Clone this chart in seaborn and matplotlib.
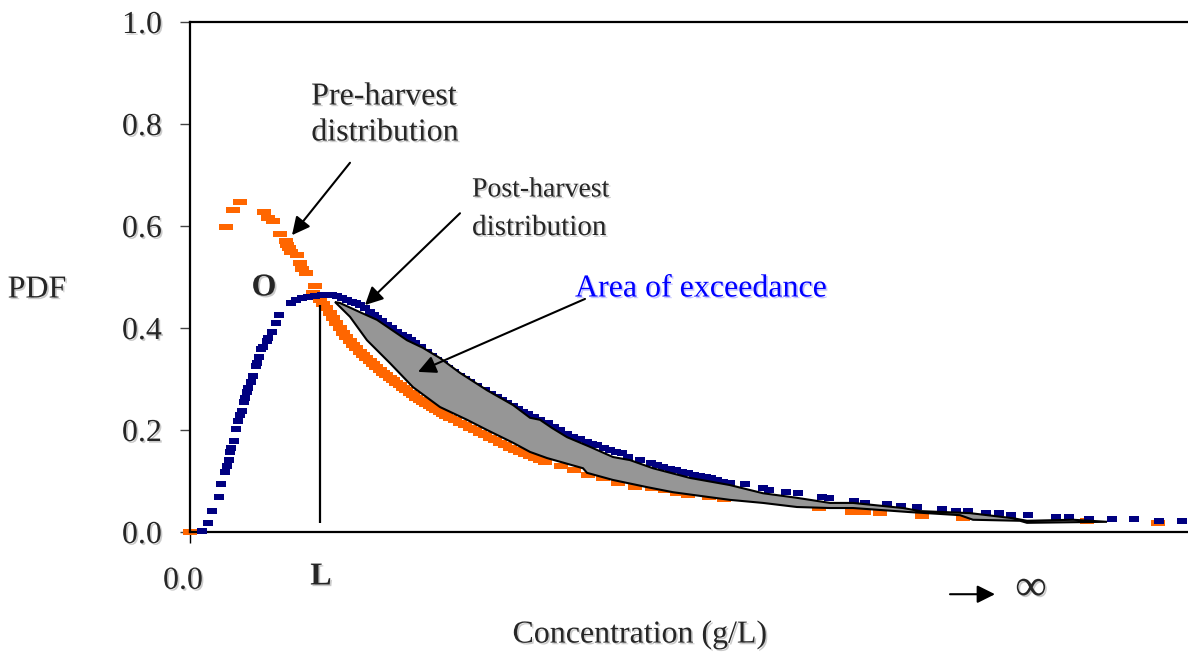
import matplotlib
matplotlib.use("Agg")
import matplotlib.pyplot as plt
import matplotlib.patheffects as pe
import matplotlib.transforms as mtransforms
from matplotlib.path import Path
import numpy as np
import seaborn as sns

# Pre-harvest concentration distribution (orange dashes)
pre_x = [0.00, 0.36, 0.43, 0.50, 0.74, 0.78, 0.83, 0.90, 0.96, 0.97, 0.99, 1.01,
         1.07, 1.10, 1.12, 1.16, 1.23, 1.25, 1.26, 1.30, 1.33, 1.36, 1.40, 1.43,
         1.46, 1.50, 1.53, 1.56, 1.60, 1.63, 1.66, 1.70, 1.73, 1.76, 1.80, 1.83,
         1.86, 1.90, 1.93, 1.96, 2.00, 2.03, 2.06, 2.10, 2.13, 2.16, 2.20, 2.23,
         2.26, 2.30, 2.33, 2.36, 2.40, 2.43, 2.46, 2.50, 2.53, 2.56, 2.60, 2.65,
         2.70, 2.75, 2.80, 2.85, 2.90, 2.95, 3.00, 3.05, 3.10, 3.15, 3.20, 3.25,
         3.30, 3.35, 3.40, 3.45, 3.50, 3.55, 3.71, 3.84, 3.98, 4.13, 4.28, 4.45,
         4.62, 4.75, 4.87, 4.98, 5.19, 5.34, 6.29, 6.62, 6.74, 6.90, 7.32, 7.73,
         8.97, 9.68]
pre_y = [0.000, 0.598, 0.631, 0.647, 0.627, 0.616, 0.610, 0.584, 0.571, 0.563, 0.557, 0.549,
         0.543, 0.527, 0.516, 0.508, 0.469, 0.482, 0.463, 0.455, 0.447, 0.439, 0.429, 0.420,
         0.410, 0.400, 0.390, 0.382, 0.375, 0.367, 0.361, 0.353, 0.347, 0.341, 0.335, 0.329,
         0.324, 0.318, 0.312, 0.308, 0.302, 0.298, 0.292, 0.288, 0.282, 0.278, 0.273, 0.269,
         0.263, 0.259, 0.255, 0.251, 0.247, 0.243, 0.239, 0.235, 0.231, 0.227, 0.224, 0.220,
         0.214, 0.210, 0.204, 0.200, 0.194, 0.190, 0.184, 0.180, 0.175, 0.171, 0.165, 0.161,
         0.157, 0.153, 0.149, 0.145, 0.141, 0.137, 0.129, 0.122, 0.112, 0.106, 0.096, 0.088,
         0.086, 0.082, 0.076, 0.073, 0.069, 0.065, 0.047, 0.039, 0.039, 0.037, 0.031, 0.027,
         0.022, 0.018]

# Post-harvest concentration distribution (navy dashes)
post_x = [0.12, 0.18, 0.22, 0.29, 0.31, 0.35, 0.37, 0.39, 0.40, 0.41, 0.44, 0.46,
          0.48, 0.50, 0.52, 0.54, 0.55, 0.57, 0.58, 0.61, 0.63, 0.66, 0.67, 0.69,
          0.71, 0.73, 0.77, 0.78, 0.82, 0.86, 0.89, 1.01, 1.06, 1.12, 1.18, 1.25,
          1.32, 1.37, 1.42, 1.47, 1.52, 1.57, 1.62, 1.66, 1.70, 1.75, 1.80, 1.84,
          1.87, 1.92, 1.97, 2.02, 2.07, 2.12, 2.17, 2.21, 2.25, 2.31, 2.37, 2.42,
          2.47, 2.53, 2.58, 2.64, 2.70, 2.75, 2.80, 2.87, 2.95, 3.01, 3.07, 3.12,
          3.17, 3.23, 3.28, 3.33, 3.38, 3.44, 3.50, 3.58, 3.64, 3.70, 3.77, 3.83,
          3.90, 3.97, 4.02, 4.07, 4.14, 4.20, 4.26, 4.32, 4.38, 4.50, 4.61, 4.67,
          4.73, 4.80, 4.86, 4.92, 4.98, 5.04, 5.10, 5.16, 5.21, 5.27, 5.33, 5.40,
          5.55, 5.73, 5.79, 5.96, 6.08, 6.32, 6.39, 6.64, 6.75, 6.97, 7.11, 7.27,
          7.52, 7.66, 7.78, 7.96, 8.09, 8.21, 8.38, 8.66, 8.79, 8.99, 9.22, 9.44,
          9.69, 9.92]
post_y = [0.002, 0.018, 0.041, 0.069, 0.094, 0.118, 0.129, 0.141, 0.157, 0.165, 0.178, 0.202,
          0.218, 0.229, 0.237, 0.255, 0.263, 0.275, 0.282, 0.294, 0.306, 0.325, 0.331, 0.343,
          0.359, 0.363, 0.375, 0.380, 0.392, 0.410, 0.425, 0.449, 0.455, 0.459, 0.461, 0.463,
          0.465, 0.465, 0.465, 0.463, 0.459, 0.455, 0.451, 0.449, 0.445, 0.439, 0.431, 0.425,
          0.420, 0.414, 0.406, 0.400, 0.392, 0.386, 0.382, 0.376, 0.371, 0.363, 0.353, 0.345,
          0.337, 0.329, 0.322, 0.314, 0.306, 0.300, 0.294, 0.286, 0.278, 0.271, 0.265, 0.259,
          0.253, 0.247, 0.241, 0.235, 0.231, 0.225, 0.220, 0.214, 0.206, 0.200, 0.192, 0.186,
          0.182, 0.176, 0.173, 0.171, 0.165, 0.161, 0.157, 0.155, 0.147, 0.141, 0.135, 0.131,
          0.127, 0.124, 0.122, 0.118, 0.116, 0.112, 0.110, 0.108, 0.106, 0.102, 0.098, 0.096,
          0.094, 0.086, 0.082, 0.078, 0.076, 0.069, 0.067, 0.061, 0.057, 0.055, 0.051, 0.049,
          0.045, 0.041, 0.041, 0.037, 0.037, 0.033, 0.033, 0.029, 0.029, 0.025, 0.025, 0.025,
          0.022, 0.022]

# Exceedance band: upper edge (post-harvest) and lower edge (pre-harvest)
upper_x = [1.45, 1.50, 1.70, 1.87, 2.17, 2.33, 2.50, 2.70, 2.97, 3.23, 3.40, 3.50,
           3.62, 3.77, 4.00, 4.23, 4.40, 4.63, 5.00, 5.40, 5.73, 6.07, 6.40, 6.63,
           7.13, 7.30, 7.80, 8.23, 8.37, 8.83, 9.17]
upper_y = [0.451, 0.449, 0.431, 0.416, 0.376, 0.361, 0.341, 0.312, 0.278, 0.249, 0.224, 0.220,
           0.204, 0.186, 0.167, 0.147, 0.141, 0.125, 0.106, 0.092, 0.076, 0.067, 0.057, 0.057,
           0.047, 0.041, 0.037, 0.027, 0.022, 0.024, 0.020]
lower_x = [1.45, 1.60, 1.77, 2.00, 2.23, 2.50, 2.77, 2.97, 3.23, 3.40, 3.57, 3.93,
           3.97, 4.23, 4.57, 4.83, 5.17, 5.40, 5.73, 6.07, 6.40, 6.63, 7.20, 7.70,
           7.83, 8.30, 8.37, 9.17]
lower_y = [0.451, 0.422, 0.376, 0.331, 0.284, 0.245, 0.220, 0.200, 0.175, 0.157, 0.145, 0.125,
           0.116, 0.102, 0.088, 0.078, 0.069, 0.063, 0.057, 0.049, 0.047, 0.047, 0.039, 0.033,
           0.024, 0.022, 0.018, 0.020]

# Regulatory limit L and the drop line under point O
limit_conc = 1.30
limit_top = 0.445
limit_bottom = 0.018

y_ticks = [0.0, 0.2, 0.4, 0.6, 0.8, 1.0]
y_tick_labels = ["0.0", "0.2", "0.4", "0.6", "0.8", "1.0"]
x_ticks = [0.0]
x_tick_labels = ["0.0"]

sns.set_style("ticks")
plt.rcParams["font.family"] = ["Liberation Serif", "DejaVu Serif"]

ORANGE = "#FF6600"
NAVY = "#000080"
GREY = "#969696"
FS = 23

shadow = [pe.withSimplePatchShadow(offset=(1.2, -1.2), shadow_rgbFace="#a8a8a8", alpha=0.6)]
blue_shadow = [pe.withSimplePatchShadow(offset=(1.2, -1.2), shadow_rgbFace="#9a9aff", alpha=0.6)]

W, H = 1188, 654
fig = plt.figure(figsize=(W / 100, H / 100), dpi=100)
ax = fig.add_axes([190 / W, 122 / H, 1000 / W, 510 / H])

orange_dash = Path([(-1.3, -0.5), (1.3, -0.5), (1.3, 0.5), (-1.3, 0.5), (-1.3, -0.5)])
navy_dash = Path([(-1.0, -0.62), (1.0, -0.62), (1.0, 0.62), (-1.0, 0.62), (-1.0, -0.62)])

sns.scatterplot(x=pre_x, y=pre_y, marker=orange_dash, s=104, color=ORANGE,
                linewidth=0, ax=ax, zorder=2, clip_on=False)
sns.scatterplot(x=post_x, y=post_y, marker=navy_dash, s=52, color=NAVY,
                linewidth=0, ax=ax, zorder=3, clip_on=False)

# Area of exceedance between the two curves
poly_x = np.concatenate([upper_x, lower_x[::-1]])
poly_y = np.concatenate([upper_y, lower_y[::-1]])
ax.fill(poly_x, poly_y, facecolor=GREY, edgecolor="black", linewidth=1.5, zorder=4)

ax.vlines(limit_conc, limit_bottom, limit_top, color="black", linewidth=1.6, zorder=5)

ax.set_xlim(0, 10)
ax.set_ylim(0, 1.0)
ax.set_yticks(y_ticks)
ax.set_yticklabels(y_tick_labels)
ax.set_xticks(x_ticks)
ax.set_xticklabels(x_tick_labels)
ax.tick_params(axis="y", direction="out", length=7.2, width=1.0, pad=13,
               labelsize=FS, color="#444444")
ax.tick_params(axis="x", direction="out", length=8, width=1.0, pad=17,
               labelsize=FS, color="black")
for lbl in ax.get_xticklabels():
    lbl.set_transform(lbl.get_transform() +
                      mtransforms.ScaledTranslation(-7 / 100, 0, fig.dpi_scale_trans))
for lbl in ax.get_xticklabels() + ax.get_yticklabels():
    lbl.set_path_effects(shadow)

for side in ["left", "top", "bottom", "right"]:
    ax.spines[side].set_linewidth(1.6)
    ax.spines[side].set_color("black")

ax.set_ylabel("PDF", rotation=0, fontsize=FS, ha="center", va="center",
              path_effects=shadow)
ax.yaxis.set_label_coords(-0.153, 0.4745)
ax.set_xlabel("Concentration (g/L)", fontsize=FS, ha="center", va="center",
              path_effects=shadow)
ax.xaxis.set_label_coords(0.45, -0.202)

arrow_kw = dict(arrowstyle="-|>", color="black", lw=1.5, mutation_scale=27,
                shrinkA=0, shrinkB=0)


def px_text(px, py, s, **kw):
    """Place text at a pixel position of the saved figure."""
    kw.setdefault("path_effects", shadow)
    fig.text(px / W, 1 - py / H, s, **kw)


px_text(384, 97, "Pre-harvest", ha="center", va="center", fontsize=FS)
px_text(385, 133, "distribution", ha="center", va="center", fontsize=FS)
ax.annotate("", xy=(1.02, 0.582), xytext=(1.60, 0.724), arrowprops=arrow_kw, zorder=6)

px_text(472, 190, "Post-harvest", ha="left", va="center", fontsize=20)
px_text(472, 228, "distribution", ha="left", va="center", fontsize=21)
ax.annotate("", xy=(1.75, 0.445), xytext=(2.70, 0.625), arrowprops=arrow_kw, zorder=6)

px_text(575, 289, "Area of exceedance", ha="left", va="center", fontsize=FS,
        color="#0000FF", path_effects=blue_shadow)
ax.annotate("", xy=(2.28, 0.314), xytext=(3.95, 0.457), arrowprops=arrow_kw, zorder=6)

px_text(264, 288, "O", ha="center", va="center", fontsize=FS, fontweight="bold")
px_text(321, 577, "L", ha="center", va="center", fontsize=FS, fontweight="bold")

ax.annotate("", xy=(8.05, -0.122), xytext=(7.60, -0.122), arrowprops=arrow_kw,
            annotation_clip=False)
px_text(1031, 589, "∞", ha="center", va="center", fontsize=32)

fig.savefig("out.png", dpi=100)
